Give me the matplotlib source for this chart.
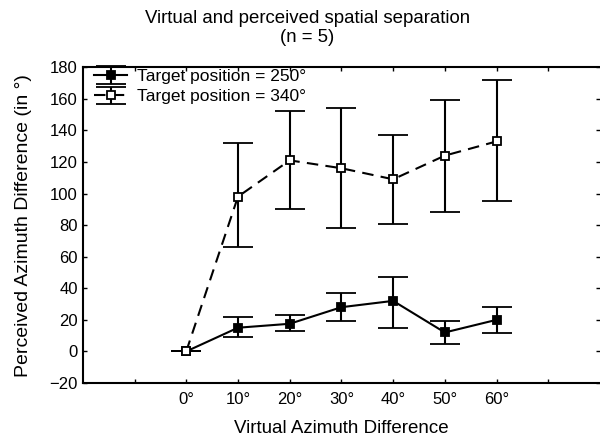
import numpy as np
import matplotlib.pyplot as plt

plt.rcParams['font.family'] = ['Liberation Sans', 'DejaVu Sans']

# Virtual azimuth difference (degrees)
x = [0, 10, 20, 30, 40, 50, 60]

# Target position = 250 deg
y_250 = [0, 15, 17.5, 28, 32, 12, 20]
lo_250 = [0, 9, 12.7, 19, 15, 5, 11.5]
hi_250 = [0, 21.5, 22.8, 36.7, 47, 19, 28]

# Target position = 340 deg
y_340 = [0, 98, 121, 116, 109, 124, 133]
lo_340 = [0, 66, 90, 78, 81, 88.6, 95]
hi_340 = [0, 132, 152, 154, 137, 159.5, 172]

xtick_pos = [-10, 0, 10, 20, 30, 40, 50, 60, 70]
xtick_lab = ["", "0°", "10°", "20°", "30°", "40°", "50°", "60°", ""]
ytick_pos = np.arange(-20, 181, 20)


def gera_figura():
    fig = plt.figure(figsize=(6, 4.42), dpi=100)
    ax = fig.add_axes([0.138, 0.1335, 0.862, 0.7145])

    y = np.array(y_250)
    err = [y - np.array(lo_250), np.array(hi_250) - y]
    ax.errorbar(x, y, yerr=err, color='black', lw=1.5, ls='-',
                marker='s', ms=6, mfc='black', mec='black', mew=1.3,
                capsize=11, capthick=1.5, elinewidth=1.5,
                label='Target position = 250°', zorder=3)

    y = np.array(y_340)
    err = [y - np.array(lo_340), np.array(hi_340) - y]
    ax.errorbar(x, y, yerr=err, color='black', lw=1.5, ls=(0, (5.5, 3.5)),
                marker='s', ms=6, mfc='white', mec='black', mew=1.3,
                capsize=11, capthick=1.5, elinewidth=1.5,
                label='Target position = 340°', zorder=3)

    ax.set_xlim(-20, 80)
    ax.set_ylim(-20, 180)
    ax.set_xticks(xtick_pos)
    ax.set_xticklabels(xtick_lab)
    ax.set_yticks(ytick_pos)
    ax.tick_params(direction='in', length=3, width=1, labelsize=12,
                   top=True, right=True)
    ax.tick_params(axis='x', pad=6.5)
    ax.tick_params(axis='y', pad=3.5)
    for s in ['left', 'bottom', 'top']:
        ax.spines[s].set_linewidth(1.5)
    ax.spines['right'].set_visible(False)

    ax.set_xlabel('Virtual Azimuth Difference', fontsize=13.5, labelpad=9.4)
    ax.set_ylabel('Perceived Azimuth Difference (in °)', fontsize=14,
                  labelpad=12.6)

    fig.text(0.512, 0.948, 'Virtual and perceived spatial separation',
             ha='center', va='baseline', fontsize=13.4)
    fig.text(0.512, 0.906, '(n = 5)', ha='center', va='baseline', fontsize=13.4)

    ax.legend(loc='upper left', bbox_to_anchor=(0.019, 1.0), frameon=False,
              fontsize=12.5, handlelength=1.9, borderaxespad=0, borderpad=0.1,
              labelspacing=0.3, handletextpad=0.58)

    fig.savefig('out.png', dpi=100)


if __name__ == '__main__':
    gera_figura()
